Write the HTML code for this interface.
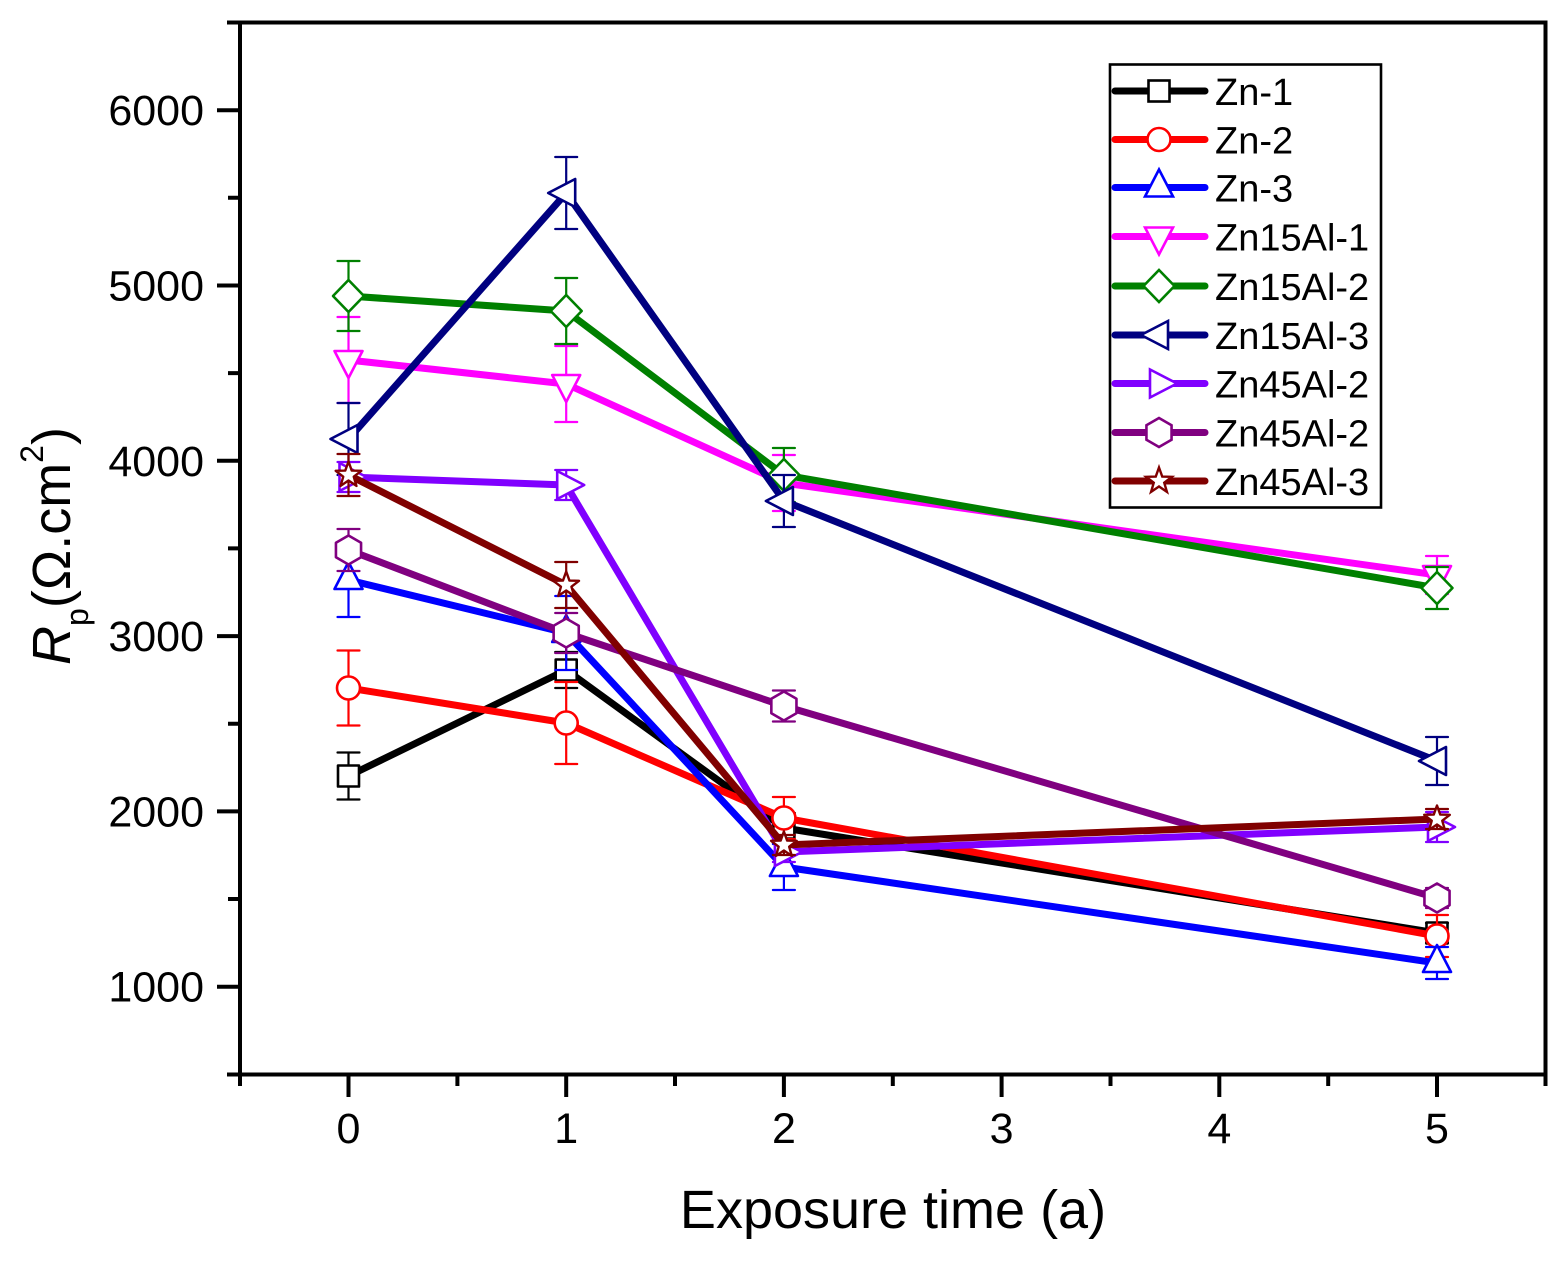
<!DOCTYPE html>
<html><head><meta charset="utf-8"><style>
html,body{margin:0;padding:0;background:#fff;}
svg{display:block;font-family:"Liberation Sans",Arial,sans-serif;}
</style></head><body>
<svg width="1564" height="1263" viewBox="0 0 1564 1263" xmlns="http://www.w3.org/2000/svg">
<defs>
<rect id="sq" x="-10.5" y="-10.5" width="21" height="21" fill="#fff" stroke="currentColor" stroke-width="2.6"/>
<circle id="ci" r="11.5" fill="#fff" stroke="currentColor" stroke-width="2.6"/>
<polygon id="tu" points="0,-18 14,9 -14,9" fill="#fff" stroke="currentColor" stroke-width="2.6"/>
<polygon id="td" points="0,18 14,-9 -14,-9" fill="#fff" stroke="currentColor" stroke-width="2.6"/>
<polygon id="di" points="0,-16 15.5,0 0,16 -15.5,0" fill="#fff" stroke="currentColor" stroke-width="2.6"/>
<polygon id="tl" points="-18,0 9,-14 9,14" fill="#fff" stroke="currentColor" stroke-width="2.6"/>
<polygon id="tr" points="18,0 -9,-14 -9,14" fill="#fff" stroke="currentColor" stroke-width="2.6"/>
<polygon id="hx" points="0,-14.5 12.56,-7.25 12.56,7.25 0,14.5 -12.56,7.25 -12.56,-7.25" fill="#fff" stroke="currentColor" stroke-width="2.6"/>
<polygon id="st" points="0,-13.5 3.23,-4.45 12.84,-4.17 5.23,1.7 7.94,10.92 0,5.5 -7.94,10.92 -5.23,1.7 -12.84,-4.17 -3.23,-4.45" fill="#fff" stroke="currentColor" stroke-width="2.4"/>
</defs>

<!-- axes frame -->
<g stroke="#000" stroke-width="4" fill="none" stroke-linecap="butt">
<line x1="240" y1="21" x2="240" y2="1086"/>
<line x1="1545.5" y1="21" x2="1545.5" y2="1086"/>
<line x1="227" y1="22.5" x2="1547.5" y2="22.5"/>
<line x1="227" y1="1074.5" x2="1547.5" y2="1074.5"/>
<!-- y major ticks -->
<path d="M217,110.2H240M217,285.5H240M217,460.8H240M217,636.1H240M217,811.4H240M217,986.7H240"/>
<!-- y minor ticks -->
<path d="M228,197.8H240M228,373.1H240M228,548.4H240M228,723.7H240M228,899H240"/>
<!-- x major ticks -->
<path d="M348.5,1074V1097M566.2,1074V1097M783.9,1074V1097M1001.6,1074V1097M1219.3,1074V1097M1437,1074V1097"/>
<!-- x minor ticks -->
<path d="M457.4,1074V1086M675,1074V1086M892.8,1074V1086M1110.5,1074V1086M1328.2,1074V1086"/>
</g>

<!-- tick labels -->
<g font-size="43" fill="#000" text-anchor="end">
<text x="204" y="125">6000</text>
<text x="204" y="300.5">5000</text>
<text x="204" y="475.8">4000</text>
<text x="204" y="651.1">3000</text>
<text x="204" y="826.4">2000</text>
<text x="204" y="1001.7">1000</text>
</g>
<g font-size="43" fill="#000" text-anchor="middle">
<text x="348.5" y="1143">0</text>
<text x="566.2" y="1143">1</text>
<text x="783.9" y="1143">2</text>
<text x="1001.6" y="1143">3</text>
<text x="1219.3" y="1143">4</text>
<text x="1437" y="1143">5</text>
</g>

<!-- axis titles -->
<text x="893" y="1228" font-size="54" text-anchor="middle" fill="#000">Exposure time (a)</text>
<text transform="translate(70,546) rotate(-90)" font-size="54" text-anchor="middle" fill="#000"><tspan font-style="italic">R</tspan><tspan font-size="32" dy="18">p</tspan><tspan dy="-18">(Ω.cm</tspan><tspan font-size="32" dy="-27">2</tspan><tspan dy="27">)</tspan></text>

<!-- series -->
<g fill="none" stroke-width="7" stroke-linejoin="round" stroke-linecap="round">
<!-- Zn-1 -->
<g color="#000000">
<polyline stroke="#000000" points="348.5,776 566.2,670 783.9,828 1437,933"/>
<path stroke="#000000" stroke-width="2.2" d="M348.5,752.5v47M337.5,752.5h22M337.5,799.5h22M566.2,652v36M555.2,652h22M555.2,688h22M783.9,813v30M772.9,813h22M772.9,843h22M1437,923v20M1426,923h22M1426,943h22"/>
<use href="#sq" x="348.5" y="776"/><use href="#sq" x="566.2" y="670"/><use href="#sq" x="783.9" y="828"/><use href="#sq" x="1437" y="933"/>
</g>
<!-- Zn-2 -->
<g color="#ff0000">
<polyline stroke="#ff0000" points="348.5,688 566.2,723 783.9,818 1437,936"/>
<path stroke="#ff0000" stroke-width="2.2" d="M348.5,650.5v75M337.5,650.5h22M337.5,725.5h22M566.2,682v82M555.2,682h22M555.2,764h22M783.9,797v42M772.9,797h22M772.9,839h22M1437,915v42M1426,915h22M1426,957h22"/>
<use href="#ci" x="348.5" y="688"/><use href="#ci" x="566.2" y="723"/><use href="#ci" x="783.9" y="818"/><use href="#ci" x="1437" y="936"/>
</g>
<!-- Zn-3 -->
<g color="#0000ff">
<polyline stroke="#0000ff" points="348.5,580 566.2,633 783.9,867 1437,963"/>
<path stroke="#0000ff" stroke-width="2.2" d="M348.5,543v74M337.5,543h22M337.5,617h22M566.2,596v74M555.2,596h22M555.2,670h22M783.9,844v46M772.9,844h22M772.9,890h22M1437,947v32M1426,947h22M1426,979h22"/>
<use href="#tu" x="348.5" y="580"/><use href="#tu" x="566.2" y="633"/><use href="#tu" x="783.9" y="867"/><use href="#tu" x="1437" y="963"/>
</g>
<!-- Zn15Al-1 -->
<g color="#ff00ff">
<polyline stroke="#ff00ff" points="348.5,360 566.2,384 783.9,483 1437,575"/>
<path stroke="#ff00ff" stroke-width="2.2" d="M348.5,317v86M337.5,317h22M337.5,403h22M566.2,346v76M555.2,346h22M555.2,422h22M783.9,455v56M772.9,455h22M772.9,511h22M1437,556v38M1426,556h22M1426,594h22"/>
<use href="#td" x="348.5" y="360"/><use href="#td" x="566.2" y="384"/><use href="#td" x="783.9" y="483"/><use href="#td" x="1437" y="575"/>
</g>
<!-- Zn15Al-2 -->
<g color="#008000">
<polyline stroke="#008000" points="348.5,296 566.2,311 783.9,475 1437,588"/>
<path stroke="#008000" stroke-width="2.2" d="M348.5,261v70M337.5,261h22M337.5,331h22M566.2,278v66M555.2,278h22M555.2,344h22M783.9,448v54M772.9,448h22M772.9,502h22M1437,567v42M1426,567h22M1426,609h22"/>
<use href="#di" x="348.5" y="296"/><use href="#di" x="566.2" y="311"/><use href="#di" x="783.9" y="475"/><use href="#di" x="1437" y="588"/>
</g>
<!-- Zn15Al-3 -->
<g color="#000080">
<polyline stroke="#000080" points="348.5,439 566.2,193 783.9,501 1437,761"/>
<path stroke="#000080" stroke-width="2.2" d="M348.5,403v72M337.5,403h22M337.5,475h22M566.2,157v72M555.2,157h22M555.2,229h22M783.9,475v52M772.9,475h22M772.9,527h22M1437,737v48M1426,737h22M1426,785h22"/>
<use href="#tl" x="348.5" y="439"/><use href="#tl" x="566.2" y="193"/><use href="#tl" x="783.9" y="501"/><use href="#tl" x="1437" y="761"/>
</g>
<!-- Zn45Al-2 violet -->
<g color="#8000ff">
<polyline stroke="#8000ff" points="348.5,477 566.2,485 783.9,852 1437,827"/>
<path stroke="#8000ff" stroke-width="2.2" d="M348.5,462v30M337.5,462h22M337.5,492h22M566.2,470v30M555.2,470h22M555.2,500h22M783.9,842v20M772.9,842h22M772.9,862h22M1437,812v30M1426,812h22M1426,842h22"/>
<use href="#tr" x="348.5" y="477"/><use href="#tr" x="566.2" y="485"/><use href="#tr" x="783.9" y="852"/><use href="#tr" x="1437" y="827"/>
</g>
<!-- Zn45Al-2 purple -->
<g color="#800080">
<polyline stroke="#800080" points="348.5,550 566.2,633 783.9,706 1437,898"/>
<path stroke="#800080" stroke-width="2.2" d="M348.5,529v42M337.5,529h22M337.5,571h22M566.2,613v40M555.2,613h22M555.2,653h22M783.9,690.5v31M772.9,690.5h22M772.9,721.5h22M1437,888v20M1426,888h22M1426,908h22"/>
<use href="#hx" x="348.5" y="550"/><use href="#hx" x="566.2" y="633"/><use href="#hx" x="783.9" y="706"/><use href="#hx" x="1437" y="898"/>
</g>
<!-- Zn45Al-3 -->
<g color="#800000">
<polyline stroke="#800000" points="348.5,475 566.2,585 783.9,845 1437,819"/>
<path stroke="#800000" stroke-width="2.2" d="M348.5,454v42M337.5,454h22M337.5,496h22M566.2,562v46M555.2,562h22M555.2,608h22M783.9,835v20M772.9,835h22M772.9,855h22M1437,809v20M1426,809h22M1426,829h22"/>
<use href="#st" x="348.5" y="475"/><use href="#st" x="566.2" y="585"/><use href="#st" x="783.9" y="845"/><use href="#st" x="1437" y="819"/>
</g>
</g>

<!-- legend -->
<rect x="1110" y="64.5" width="271" height="443" fill="#fff" stroke="#000" stroke-width="2.6"/>
<g stroke-width="7" stroke-linecap="round">
<line x1="1115" y1="91" x2="1205" y2="91" stroke="#000000"/>
<line x1="1115" y1="139.5" x2="1205" y2="139.5" stroke="#ff0000"/>
<line x1="1115" y1="187.5" x2="1205" y2="187.5" stroke="#0000ff"/>
<line x1="1115" y1="236.5" x2="1205" y2="236.5" stroke="#ff00ff"/>
<line x1="1115" y1="286" x2="1205" y2="286" stroke="#008000"/>
<line x1="1115" y1="335" x2="1205" y2="335" stroke="#000080"/>
<line x1="1115" y1="383.5" x2="1205" y2="383.5" stroke="#8000ff"/>
<line x1="1115" y1="432.5" x2="1205" y2="432.5" stroke="#800080"/>
<line x1="1115" y1="481" x2="1205" y2="481" stroke="#800000"/>
</g>
<use href="#sq" x="1159" y="91" color="#000000"/>
<use href="#ci" x="1159" y="139.5" color="#ff0000"/>
<use href="#tu" x="1159" y="187.5" color="#0000ff"/>
<use href="#td" x="1159" y="236.5" color="#ff00ff"/>
<use href="#di" x="1159" y="286" color="#008000"/>
<use href="#tl" x="1159" y="335" color="#000080"/>
<use href="#tr" x="1159" y="383.5" color="#8000ff"/>
<use href="#hx" x="1159" y="432.5" color="#800080"/>
<use href="#st" x="1159" y="481" color="#800000"/>
<g font-size="38" fill="#000">
<text x="1215" y="105">Zn-1</text>
<text x="1215" y="153.5">Zn-2</text>
<text x="1215" y="201.5">Zn-3</text>
<text x="1215" y="250.5">Zn15Al-1</text>
<text x="1215" y="300">Zn15Al-2</text>
<text x="1215" y="349">Zn15Al-3</text>
<text x="1215" y="397.5">Zn45Al-2</text>
<text x="1215" y="446.5">Zn45Al-2</text>
<text x="1215" y="495">Zn45Al-3</text>
</g>
</svg>
</body></html>
